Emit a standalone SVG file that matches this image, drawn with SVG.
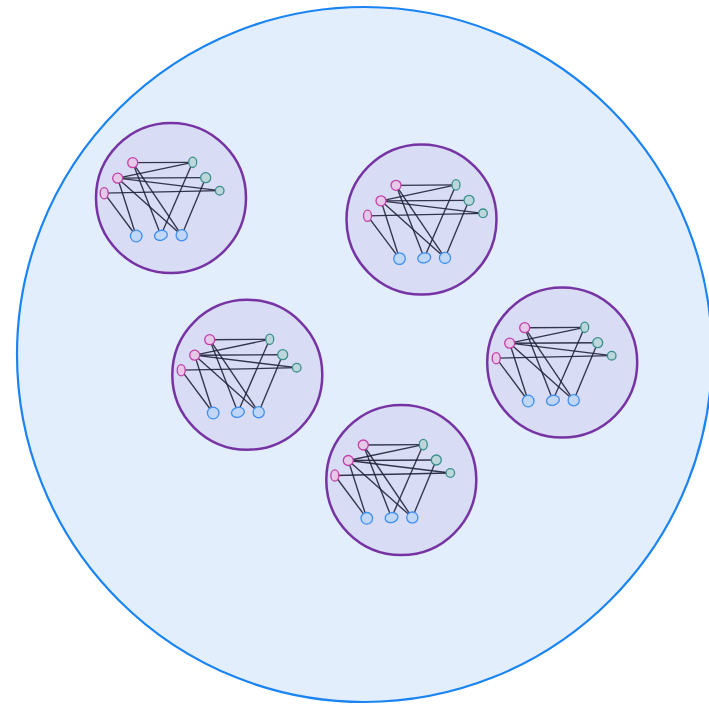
<svg xmlns="http://www.w3.org/2000/svg" width="709" height="705" viewBox="0 0 709 705">
<style>
.outer{fill:#e3eefd;stroke:#1a84f2;stroke-width:2.2}
.cl{fill:#d9dcf5;stroke:#7633a3;stroke-width:2.5}
.e line{stroke:#1f2238;stroke-width:1.35;stroke-opacity:0.9}
.p{fill:#e4c9e9;stroke:#c13fa6;stroke-width:1.3}
.t{fill:#bcd6db;stroke:#3a8f8c;stroke-width:1.3}
.b{fill:#c1d7f7;stroke:#3f8ff0;stroke-width:1.3}
</style>
<defs>
<g id="edges" class="e">
<line x1="0" y1="0" x2="60" y2="-0.4"/>
<line x1="-15" y1="15.5" x2="60" y2="-0.4"/>
<line x1="-15" y1="15.5" x2="73" y2="15"/>
<line x1="-15" y1="15.5" x2="87" y2="28"/>
<line x1="-28.5" y1="30.5" x2="87" y2="28"/>
<line x1="-28.5" y1="30.5" x2="3.5" y2="73.3"/>
<line x1="-15" y1="15.5" x2="3.5" y2="73.3"/>
<line x1="-15" y1="15.5" x2="49" y2="72.6"/>
<line x1="0" y1="0" x2="28.2" y2="72.6"/>
<line x1="0" y1="0" x2="49" y2="72.6"/>
<line x1="60" y1="-0.4" x2="28.2" y2="72.6"/>
<line x1="73" y1="15" x2="49" y2="72.6"/>
</g>
</defs>
<circle id="outer" class="outer" cx="364.5" cy="354.5" r="347.5"/>

<g id="cluster1">
<circle class="cl" cx="171" cy="198" r="75"/>
<g transform="translate(132.7,162.7)">
<use href="#edges"/>
<g id="c1a"><circle class="p" cx="0" cy="0" r="5"/></g>
<g id="c1b"><circle class="p" cx="-15" cy="15.5" r="5"/></g>
<g id="c1c"><ellipse class="p" cx="-28.5" cy="30.5" rx="4" ry="5.6"/></g>
<g id="c1d"><ellipse class="t" cx="60" cy="-0.4" rx="4" ry="5.2"/></g>
<g id="c1e"><circle class="t" cx="73" cy="15" r="5"/></g>
<g id="c1f"><circle class="t" cx="87" cy="28" r="4.3"/></g>
<g id="c1g"><circle class="b" cx="3.5" cy="73.3" r="5.8"/></g>
<g id="c1h"><ellipse class="b" cx="28.2" cy="72.6" rx="6.5" ry="4.9" transform="rotate(-15 28.2 72.6)"/></g>
<g id="c1i"><circle class="b" cx="49" cy="72.6" r="5.6"/></g>
</g>
</g>

<g id="cluster2">
<circle class="cl" cx="421.5" cy="219.5" r="75"/>
<g transform="translate(396,185.3)">
<use href="#edges"/>
<g id="c2a"><circle class="p" cx="0" cy="0" r="5"/></g>
<g id="c2b"><circle class="p" cx="-15" cy="15.5" r="5"/></g>
<g id="c2c"><ellipse class="p" cx="-28.5" cy="30.5" rx="4" ry="5.6"/></g>
<g id="c2d"><ellipse class="t" cx="60" cy="-0.4" rx="4" ry="5.2"/></g>
<g id="c2e"><circle class="t" cx="73" cy="15" r="5"/></g>
<g id="c2f"><circle class="t" cx="87" cy="28" r="4.3"/></g>
<g id="c2g"><circle class="b" cx="3.5" cy="73.3" r="5.8"/></g>
<g id="c2h"><ellipse class="b" cx="28.2" cy="72.6" rx="6.5" ry="4.9" transform="rotate(-15 28.2 72.6)"/></g>
<g id="c2i"><circle class="b" cx="49" cy="72.6" r="5.6"/></g>
</g>
</g>

<g id="cluster3">
<circle class="cl" cx="247.3" cy="374.8" r="75"/>
<g transform="translate(209.7,339.7)">
<use href="#edges"/>
<g id="c3a"><circle class="p" cx="0" cy="0" r="5"/></g>
<g id="c3b"><circle class="p" cx="-15" cy="15.5" r="5"/></g>
<g id="c3c"><ellipse class="p" cx="-28.5" cy="30.5" rx="4" ry="5.6"/></g>
<g id="c3d"><ellipse class="t" cx="60" cy="-0.4" rx="4" ry="5.2"/></g>
<g id="c3e"><circle class="t" cx="73" cy="15" r="5"/></g>
<g id="c3f"><circle class="t" cx="87" cy="28" r="4.3"/></g>
<g id="c3g"><circle class="b" cx="3.5" cy="73.3" r="5.8"/></g>
<g id="c3h"><ellipse class="b" cx="28.2" cy="72.6" rx="6.5" ry="4.9" transform="rotate(-15 28.2 72.6)"/></g>
<g id="c3i"><circle class="b" cx="49" cy="72.6" r="5.6"/></g>
</g>
</g>

<g id="cluster4">
<circle class="cl" cx="562.2" cy="362.5" r="75"/>
<g transform="translate(524.7,327.7)">
<use href="#edges"/>
<g id="c4a"><circle class="p" cx="0" cy="0" r="5"/></g>
<g id="c4b"><circle class="p" cx="-15" cy="15.5" r="5"/></g>
<g id="c4c"><ellipse class="p" cx="-28.5" cy="30.5" rx="4" ry="5.6"/></g>
<g id="c4d"><ellipse class="t" cx="60" cy="-0.4" rx="4" ry="5.2"/></g>
<g id="c4e"><circle class="t" cx="73" cy="15" r="5"/></g>
<g id="c4f"><circle class="t" cx="87" cy="28" r="4.3"/></g>
<g id="c4g"><circle class="b" cx="3.5" cy="73.3" r="5.8"/></g>
<g id="c4h"><ellipse class="b" cx="28.2" cy="72.6" rx="6.5" ry="4.9" transform="rotate(-15 28.2 72.6)"/></g>
<g id="c4i"><circle class="b" cx="49" cy="72.6" r="5.6"/></g>
</g>
</g>

<g id="cluster5">
<circle class="cl" cx="401.3" cy="480" r="75"/>
<g transform="translate(363.3,445)">
<use href="#edges"/>
<g id="c5a"><circle class="p" cx="0" cy="0" r="5"/></g>
<g id="c5b"><circle class="p" cx="-15" cy="15.5" r="5"/></g>
<g id="c5c"><ellipse class="p" cx="-28.5" cy="30.5" rx="4" ry="5.6"/></g>
<g id="c5d"><ellipse class="t" cx="60" cy="-0.4" rx="4" ry="5.2"/></g>
<g id="c5e"><circle class="t" cx="73" cy="15" r="5"/></g>
<g id="c5f"><circle class="t" cx="87" cy="28" r="4.3"/></g>
<g id="c5g"><circle class="b" cx="3.5" cy="73.3" r="5.8"/></g>
<g id="c5h"><ellipse class="b" cx="28.2" cy="72.6" rx="6.5" ry="4.9" transform="rotate(-15 28.2 72.6)"/></g>
<g id="c5i"><circle class="b" cx="49" cy="72.6" r="5.6"/></g>
</g>
</g>
</svg>
